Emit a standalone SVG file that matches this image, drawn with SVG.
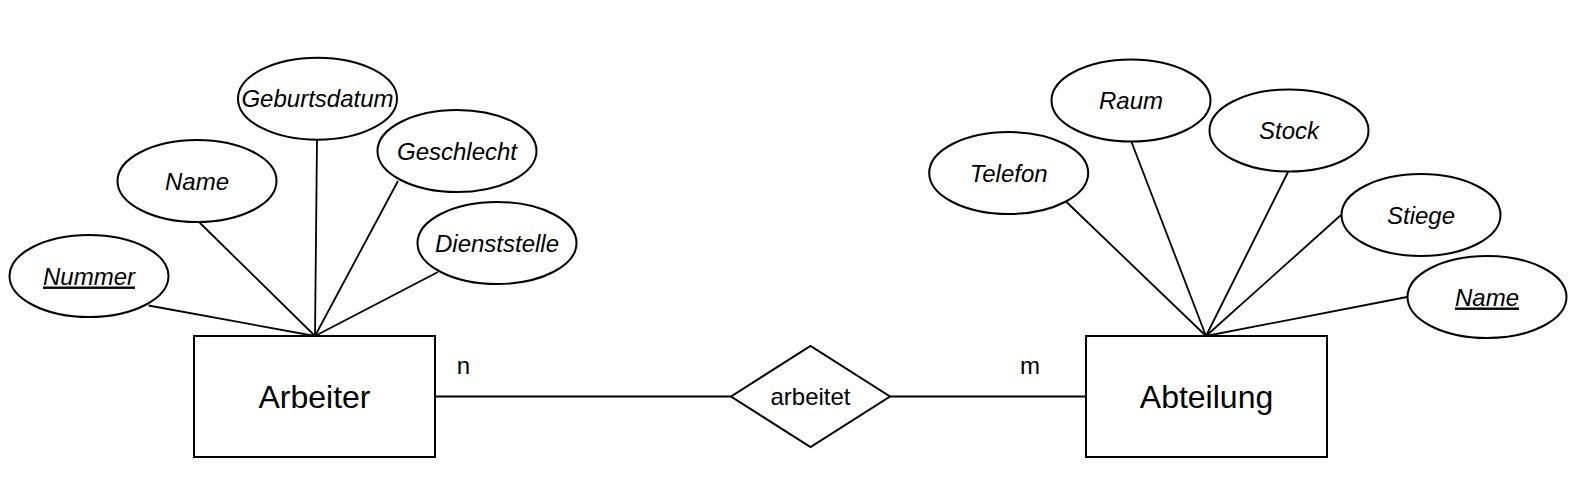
<svg xmlns="http://www.w3.org/2000/svg" width="1586" height="500" viewBox="0 0 1586 500">
<style>
.shape{fill:#ffffff;stroke:#000000;stroke-width:2}
.edge{fill:none;stroke:#000000;stroke-width:1.8}
.attr{font-family:"Liberation Sans",Arial,sans-serif;font-size:24px;font-style:italic;text-anchor:middle;fill:#000}
.key{text-decoration:underline}
.ent{font-family:"Liberation Sans",Arial,sans-serif;font-size:32px;text-anchor:middle;fill:#000}
.lbl{font-family:"Liberation Sans",Arial,sans-serif;font-size:24px;text-anchor:middle;fill:#000}
</style>
<rect width="1586" height="500" fill="#ffffff"/>
<g id="connectors">
<line class="edge" x1="148.5" y1="305.5" x2="315" y2="336"/>
<line class="edge" x1="199" y1="222" x2="315" y2="336"/>
<line class="edge" x1="317" y1="140" x2="315" y2="336"/>
<line class="edge" x1="398" y1="181" x2="315" y2="336"/>
<line class="edge" x1="438" y1="272" x2="315" y2="336"/>
<line class="edge" x1="1066.5" y1="202" x2="1206" y2="336"/>
<line class="edge" x1="1131.5" y1="142" x2="1206" y2="336"/>
<line class="edge" x1="1288" y1="172" x2="1206" y2="336"/>
<line class="edge" x1="1341" y1="215" x2="1206" y2="336"/>
<line class="edge" x1="1407" y1="297" x2="1206" y2="336"/>
<line class="edge" x1="435" y1="396.5" x2="731" y2="396.5"/>
<line class="edge" x1="890" y1="396.5" x2="1086" y2="396.5"/>
</g>
<g id="label-n"><text class="lbl" x="463.5" y="373.5">n</text></g>
<g id="label-m"><text class="lbl" x="1030" y="373.5">m</text></g>
<g id="arbeiter"><rect class="shape" x="194" y="336" width="241" height="121"/><text class="ent" x="314.5" y="408">Arbeiter</text></g>
<g id="abteilung"><rect class="shape" x="1086" y="336" width="241" height="121"/><text class="ent" x="1206.5" y="408">Abteilung</text></g>
<g id="arbeitet"><polygon class="shape" points="731,396.5 810.5,346 890,396.5 810.5,447"/><text class="lbl" x="810.5" y="405">arbeitet</text></g>
<g id="attr-nummer"><ellipse class="shape" cx="89" cy="276" rx="79.5" ry="41"/><text class="attr key" x="89" y="284.5">Nummer</text></g>
<g id="attr-name-arbeiter"><ellipse class="shape" cx="197" cy="181" rx="79.5" ry="41"/><text class="attr" x="197" y="189.5">Name</text></g>
<g id="attr-geburtsdatum"><ellipse class="shape" cx="317.5" cy="98.7" rx="79.5" ry="41"/><text class="attr" x="317.5" y="107.2">Geburtsdatum</text></g>
<g id="attr-geschlecht"><ellipse class="shape" cx="457" cy="151" rx="79.5" ry="41"/><text class="attr" x="457" y="159.5">Geschlecht</text></g>
<g id="attr-dienststelle"><ellipse class="shape" cx="497" cy="243" rx="79.5" ry="41"/><text class="attr" x="497" y="251.5">Dienststelle</text></g>
<g id="attr-telefon"><ellipse class="shape" cx="1008.7" cy="173" rx="79.5" ry="41"/><text class="attr" x="1008.7" y="181.5">Telefon</text></g>
<g id="attr-raum"><ellipse class="shape" cx="1131" cy="100.5" rx="79.5" ry="41"/><text class="attr" x="1131" y="109">Raum</text></g>
<g id="attr-stock"><ellipse class="shape" cx="1289" cy="130.5" rx="79.5" ry="41"/><text class="attr" x="1289" y="139">Stock</text></g>
<g id="attr-stiege"><ellipse class="shape" cx="1421" cy="215" rx="79.5" ry="41"/><text class="attr" x="1421" y="223.5">Stiege</text></g>
<g id="attr-name-abteilung"><ellipse class="shape" cx="1487" cy="297" rx="79.5" ry="41"/><text class="attr key" x="1487" y="305.5">Name</text></g>
</svg>
